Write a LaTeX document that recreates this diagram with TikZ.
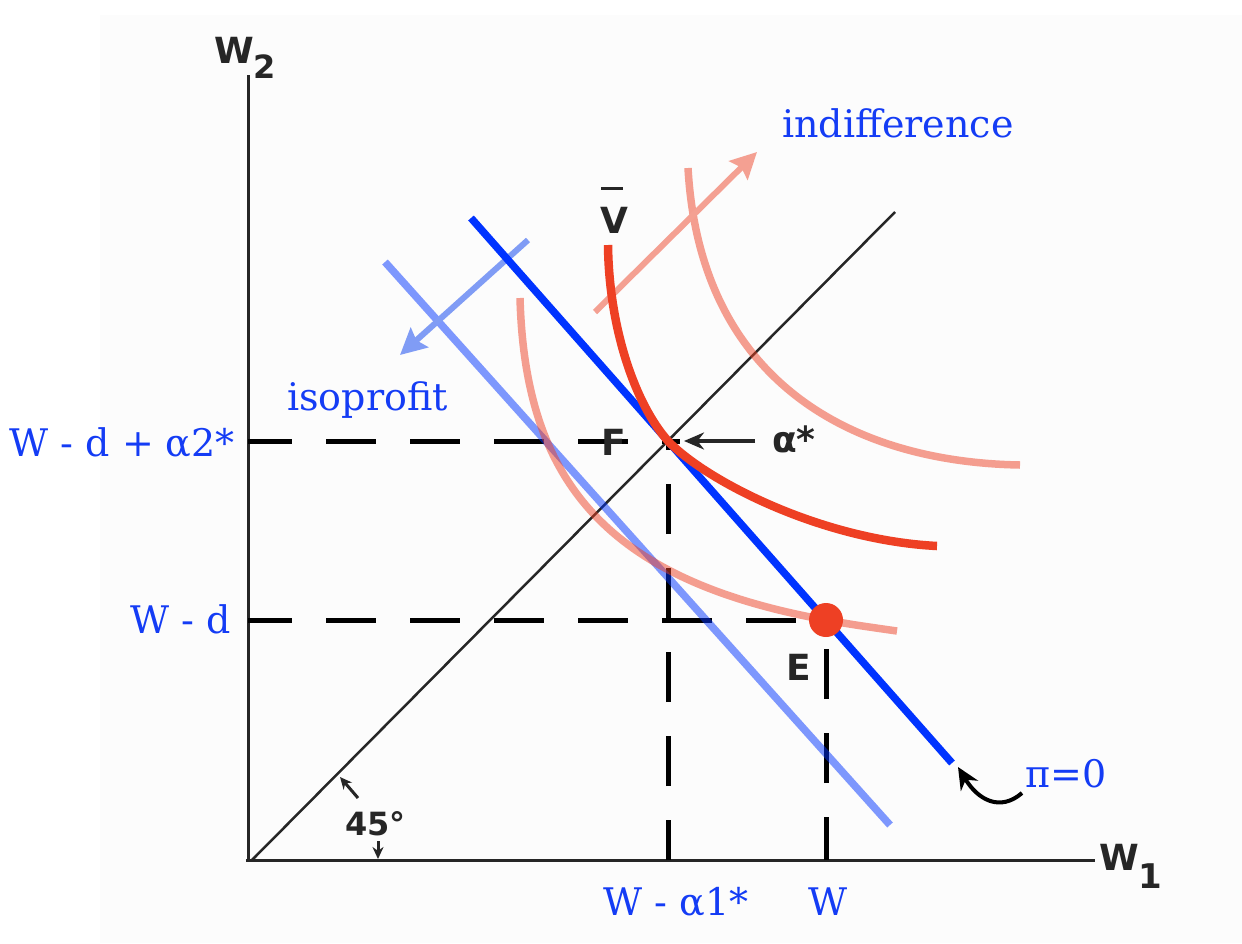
\documentclass[tikz,border=0pt]{standalone}
\usepackage{fontspec}
\setmainfont{DejaVu Serif}
\newfontfamily\lblfont{DejaVu Sans}
\usetikzlibrary{arrows.meta}
\definecolor{pblue}{RGB}{0,51,255}
\definecolor{lblue}{RGB}{128,156,245}
\definecolor{pred}{RGB}{238,64,36}
\definecolor{salmon}{RGB}{244,160,146}
\definecolor{tblue}{RGB}{20,60,245}
\begin{document}
\begin{tikzpicture}[x=1pt,y=-1pt,
  bluetext/.style={text=tblue,inner sep=0pt,font=\fontsize{38}{44}\selectfont},
  blacklbl/.style={inner sep=0pt,text=black!85,font=\lblfont\bfseries\fontsize{36}{42}\selectfont},
  axisline/.style={line width=3pt,black!85},
  guide/.style={line width=5pt,dash pattern=on 50pt off 34pt},
  budget/.style={line width=7.5pt,pblue},
  isoline/.style={line width=7.5pt,pblue,opacity=0.5},
  vbar/.style={line width=8.5pt,pred},
  indiff/.style={line width=7.5pt,pred,opacity=0.5},
  bigarrow/.style={line width=6pt,-{Stealth[length=26pt,width=26pt,inset=4pt]}},
  smallarrow/.style={line width=3pt,black!85,-{Stealth[length=12pt,width=11pt]}}
]
\useasboundingbox (0,0) rectangle (1242,943);
\fill[gray!2] (100,15) rectangle (1242,943);

% named points
\coordinate (O) at (248,860);
\coordinate (ytop) at (248,75);
\coordinate (xend) at (1095,860);
\coordinate (diagend) at (895,212);
\coordinate (F) at (668,441);
\coordinate (E) at (826,620);
\coordinate (Fy) at (248,441);
\coordinate (Ey) at (248,620);
\coordinate (Fx) at (668,860);
\coordinate (Ex) at (826,860);
\coordinate (Fend) at (680,441);
\coordinate (b1) at (471,218);
\coordinate (b2) at (952,763);
\coordinate (i1) at (385,262);
\coordinate (i2) at (890,825);

% axes and 45 degree line
\draw[axisline] (ytop) -- (248,862);
\draw[axisline] (246,860) -- (xend);
\draw[line width=2.5pt,black!85] (252,860) -- (diagend);

% dashed guides
\draw[guide,dash phase=6pt] (Fy) -- (Fend);
\draw[guide,dash phase=6pt] (Ey) -- (E);
\draw[guide,dash phase=10pt] (Fx) -- (F);
\draw[guide,dash phase=7pt] (Ex) -- (E);

% isoprofit line
\draw[isoline] (i1) -- (i2);

% indifference curves
\draw[indiff] (520,298) .. controls (525,480) and (605,580) .. (E) .. controls (855,625) .. (897,631);
\draw[indiff] (688,168) .. controls (700,380) and (850,462) .. (1020,465);

% direction arrows
\coordinate (sa1) at (595,312);
\coordinate (sa2) at (757,152);
\draw[bigarrow,salmon] (sa1) -- (sa2);
\coordinate (ba1) at (528,240);
\coordinate (ba2) at (400,355);
\draw[bigarrow,lblue] (ba1) -- (ba2);

% zero-profit line
\draw[budget] (b1) -- (b2);

% Vbar indifference curve
\draw[vbar] (608,245) .. controls (609,330) and (636,405) .. (F) .. controls (705,480) and (820,540) .. (937,546);

% point E
\fill[pred] (E) circle (17pt);

% black labels
\node[blacklbl,anchor=base west] (w2) at (214,63) {W\raisebox{-15pt}{\fontsize{32}{32}\selectfont 2}};
\node[blacklbl,anchor=base west] (w1) at (1099,870) {W\raisebox{-18pt}{\fontsize{34}{34}\selectfont 1}};
\node[blacklbl,anchor=base west] (flbl) at (601,455) {F};
\node[blacklbl,anchor=base west] (elbl) at (786,680) {E};
\node[blacklbl,anchor=base west] (vlbl) at (600,233) {\makebox[0pt][l]{\hspace{1pt}\raisebox{43pt}{\rule{22pt}{3.5pt}}}V};
\node[blacklbl,anchor=base west] (astar) at (772,452) {α*};
\node[blacklbl,anchor=base west,font=\lblfont\bfseries\fontsize{32}{38}\selectfont] (deg) at (345,835) {45°};

% small arrows
\draw[line width=3.5pt,black!85,-{Stealth[length=20pt,width=17pt]}] (755,441) -- (684,441);
\coordinate (dg1) at (358,798);
\coordinate (dg2) at (340,777);
\draw[smallarrow] (dg1) -- (dg2);
\coordinate (dn1) at (378,841);
\coordinate (dn2) at (378,859);
\draw[smallarrow] (dn1) -- (dn2);

% blue labels
\node[bluetext,anchor=base west] (indl) at (782,137) {indifference};
\node[bluetext,anchor=base west] (isol) at (287,410) {isoprofit};
\node[bluetext,anchor=base east] (yl1) at (235,456) {W - d + α2*};
\node[bluetext,anchor=base east] (yl2) at (231,633) {W - d};
\node[bluetext,anchor=base] (xl1) at (676,915) {W - α1*};
\node[bluetext,anchor=base] (xl2) at (828,915) {W};
\node[bluetext,anchor=base west] (pil) at (1025,787) {π=0};

% curved arrow to zero-profit line
\draw[line width=4pt,black,-{Stealth[length=22pt,width=20pt]}] (1022,793) .. controls (1000,812) and (978,800) .. (958,767);
\end{tikzpicture}
\end{document}
